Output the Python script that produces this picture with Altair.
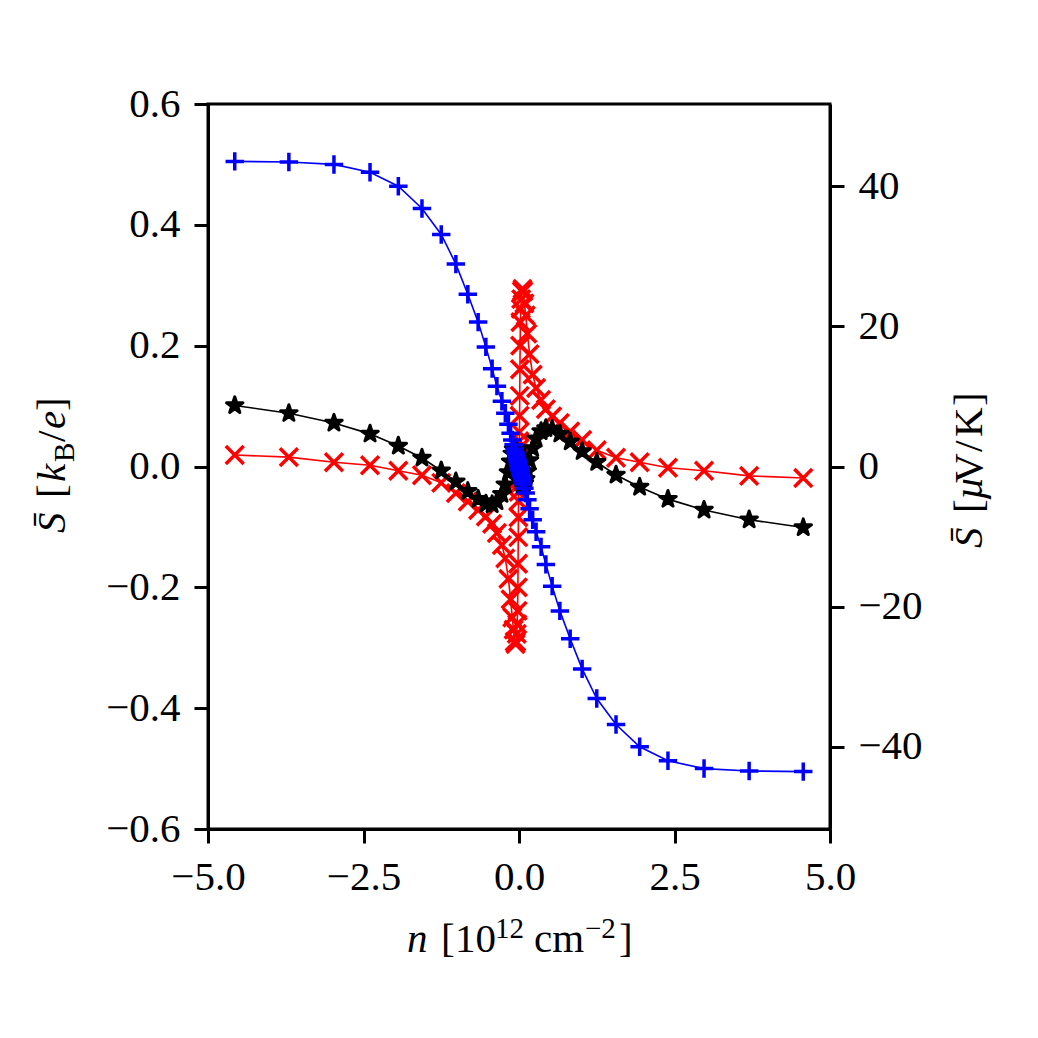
import altair as alt
import pandas as pd

# ---------------- data ----------------
n = [-4.570, -3.700, -2.975, -2.395, -1.940, -1.560, -1.250, -1.015, -0.823, -0.657,
     -0.533, -0.432, -0.355, -0.275, -0.220, -0.170, -0.135, -0.108, -0.087, -0.070,
     -0.056, -0.045, -0.036, -0.029, -0.023, -0.018, -0.015, -0.012, -0.0095, -0.0075,
     -0.006, -0.0048, -0.0038, -0.003,
     0.003, 0.0038, 0.0048, 0.006, 0.0075, 0.0095, 0.012, 0.015, 0.018, 0.023,
     0.029, 0.036, 0.045, 0.056, 0.070, 0.087, 0.108, 0.135, 0.170, 0.220,
     0.275, 0.355, 0.432, 0.533, 0.657, 0.823, 1.015, 1.250, 1.560, 1.940,
     2.395, 2.975, 3.700, 4.570]

S_blue = [0.505, 0.504, 0.500, 0.487, 0.464, 0.427, 0.384, 0.335, 0.285, 0.239,
          0.198, 0.162, 0.133, 0.108, 0.088, 0.070, 0.055, 0.044, 0.036, 0.029,
          0.023, 0.018, 0.015, 0.012, 0.0095, 0.0075, 0.006, 0.005, 0.004, 0.003,
          0.0025, 0.002, 0.0016, 0.0012,
          -0.0012, -0.0016, -0.002, -0.0025, -0.003, -0.004, -0.005, -0.006, -0.0075, -0.0095,
          -0.012, -0.015, -0.018, -0.023, -0.029, -0.036, -0.044, -0.055, -0.070, -0.088,
          -0.108, -0.133, -0.162, -0.198, -0.239, -0.285, -0.335, -0.384, -0.427, -0.464,
          -0.487, -0.500, -0.504, -0.505]

S_red = [0.019, 0.0155, 0.007, 0.002, -0.007, -0.0145, -0.027, -0.044, -0.058, -0.072,
         -0.083, -0.095, -0.110, -0.130, -0.152, -0.186, -0.220, -0.250, -0.270, -0.290,
         -0.294, -0.290, -0.277, -0.261, -0.239, -0.200, -0.161, -0.117, -0.084, -0.057,
         -0.042, -0.030, -0.021, -0.015,
         0.015, 0.021, 0.030, 0.042, 0.057, 0.084, 0.117, 0.161, 0.200, 0.239,
         0.261, 0.277, 0.290, 0.294, 0.290, 0.270, 0.250, 0.220, 0.186, 0.152,
         0.130, 0.110, 0.095, 0.083, 0.072, 0.058, 0.044, 0.027, 0.0145, 0.007,
         -0.002, -0.007, -0.0155, -0.019]

S_black = [0.101, 0.088, 0.072, 0.054, 0.034, 0.014, -0.007, -0.025, -0.041, -0.054,
           -0.062, -0.063, -0.058, -0.046, -0.030, -0.010, 0.008, 0.021, 0.028, 0.031,
           0.030, 0.028, 0.025, 0.021, 0.017, 0.014, 0.011, 0.009, 0.007, 0.0055,
           0.0045, 0.0036, 0.0029, 0.0023,
           -0.0023, -0.0029, -0.0036, -0.0045, -0.0055, -0.007, -0.009, -0.011, -0.014, -0.017,
           -0.021, -0.025, -0.028, -0.030, -0.031, -0.028, -0.021, -0.008, 0.010, 0.030,
           0.046, 0.058, 0.063, 0.062, 0.054, 0.041, 0.025, 0.007, -0.014, -0.034,
           -0.054, -0.072, -0.088, -0.101]

x_ticks = [-5.0, -2.5, 0.0, 2.5, 5.0]
y_ticks = [-0.6, -0.4, -0.2, 0.0, 0.2, 0.4, 0.6]
y2_ticks = [-40, -20, 0, 20, 40]
KB_OVER_E_UV = 86.17  # k_B/e in microvolt per kelvin

# ---------------- styling ----------------
FONT = "Liberation Serif"
FS = 41
SUB = 29
PLOT_W, PLOT_H = 622, 725

xs = alt.Scale(domain=[-5, 5], nice=False, zero=False)
ys = alt.Scale(domain=[-0.6, 0.6], nice=False, zero=False)
ys2 = alt.Scale(domain=[-0.6 * KB_OVER_E_UV, 0.6 * KB_OVER_E_UV], nice=False, zero=False)

x_enc = alt.X("n:Q", scale=xs, axis=alt.Axis(values=x_ticks, format=".1f", title=None))
y_enc = alt.Y("S:Q", scale=ys, axis=alt.Axis(values=y_ticks, format=".1f", title=None, orient="left"))

PLUS = "M-1,0L1,0M0,-1L0,1"
CROSS = "M-1,-1L1,1M-1,1L1,-1"
STAR = ("M0,-1L0.2245,-0.309L0.951,-0.309L0.363,0.118L0.588,0.809L0,0.382"
        "L-0.588,0.809L-0.363,0.118L-0.951,-0.309L-0.2245,-0.309Z")


def series(vals, color, shape, size, filled, sw):
    d = pd.DataFrame({"n": n, "S": vals})
    base = alt.Chart(d)
    line = base.mark_line(color=color, strokeWidth=1.6).encode(x=x_enc, y=y_enc, order="n:Q")
    if filled:
        pts = base.mark_point(shape=shape, size=size, filled=True, fill=color, stroke=color,
                              strokeWidth=sw, opacity=1, strokeJoin="round").encode(x=x_enc, y=y_enc)
    else:
        pts = base.mark_point(shape=shape, size=size, filled=False, stroke=color,
                              strokeWidth=sw, opacity=1, strokeCap="butt").encode(x=x_enc, y=y_enc)
    return [line, pts]


def txt(s, vx, vy, size=FS, italic=False, angle=0):
    return alt.Chart(pd.DataFrame({"d": [0]})).mark_text(
        text=s, font=FONT, fontSize=size, fontStyle="italic" if italic else "normal",
        angle=angle, align="left", baseline="alphabetic", color="black"
    ).encode(x=alt.value(vx), y=alt.value(vy))


layers = []
layers += series(S_red, "#ff0000", CROSS, 320, False, 3.5)
layers += series(S_black, "#000000", STAR, 300, True, 3)
layers += series(S_blue, "#0000ff", PLUS, 340, False, 3.5)

# x-axis title: n [10^12 cm^-2]
XB = 848
XS = 834
layers += [
    txt("n", 199, XB, italic=True),
    txt("[", 233, XB),
    txt("10", 247, XB),
    txt("12", 287, XS, size=SUB),
    txt("cm", 326, XB),
    txt("\u22122", 377, XS, size=SUB),
    txt("]", 411, XB),
]

# left y title: S-bar [k_B / e]
LB = -143
layers += [
    txt("S\u0304", LB, 429, italic=True, angle=270),
    txt("[", LB, 394, angle=270),
    txt("k", LB, 378, italic=True, angle=270),
    txt("B", LB + 9, 358, size=SUB, angle=270),
    txt("/", LB, 338, angle=270),
    txt("e", LB, 325, italic=True, angle=270),
    txt("]", LB, 307, angle=270),
]

# right y title: S-bar [mu V / K]
RB = 774
layers += [
    txt("S\u0304", RB, 444, italic=True, angle=270),
    txt("[", RB, 409, angle=270),
    txt("\u00b5", RB, 396, italic=True, angle=270),
    txt("V", RB, 379, angle=270),
    txt("/", RB, 348, angle=270),
    txt("K", RB, 333, angle=270),
    txt("]", RB, 302, angle=270),
]

main = alt.layer(*layers)

right_df = pd.DataFrame({"n": n, "S_uV": [v * KB_OVER_E_UV for v in S_blue]})
right = alt.Chart(right_df).mark_point(opacity=0).encode(
    x=x_enc,
    y=alt.Y("S_uV:Q", scale=ys2,
            axis=alt.Axis(values=y2_ticks, format="d", title=None, orient="right")),
)

chart = alt.layer(main, right).resolve_scale(y="independent").properties(
    width=PLOT_W, height=PLOT_H,
    autosize=alt.AutoSizeParams(type="none"),
    padding={"left": 200, "top": 96, "right": 190, "bottom": 190},
    background="white",
).configure_view(
    stroke="black", strokeWidth=3
).configure_axis(
    labelFont=FONT, labelFontSize=FS, labelColor="black",
    tickColor="black", tickWidth=3, tickSize=14,
    domainColor="black", domainWidth=3,
    grid=False, labelPadding=14, labelFlush=False, labelOverlap=False,
)

chart.save("out.html", embed_options={"renderer": "svg", "actions": False})
